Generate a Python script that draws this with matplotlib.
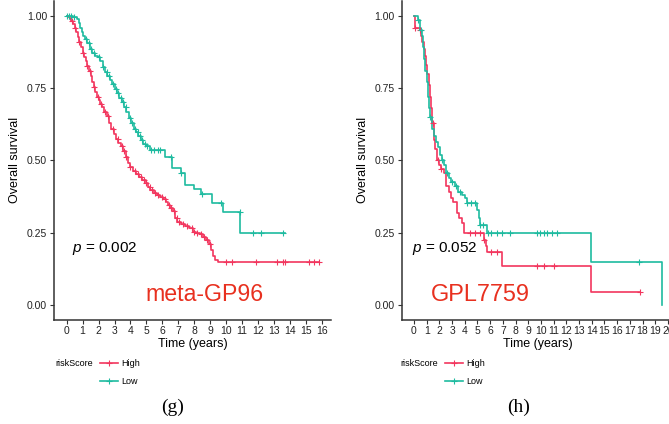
import numpy as np
import matplotlib
matplotlib.use("Agg")
import matplotlib.pyplot as plt
from matplotlib.lines import Line2D

plt.rcParams['font.family'] = ['Liberation Sans', 'DejaVu Sans']
plt.rcParams['mathtext.fontset'] = 'custom'
plt.rcParams['mathtext.it'] = 'Liberation Sans:italic'
plt.rcParams['mathtext.rm'] = 'Liberation Sans'

HIGH_COLOR = '#F2365E'
LOW_COLOR = '#1EBBA0'
LABEL_RED = '#E8301F'

# ---- panel (g): meta-GP96 ----
g_high_t = [0.00, 0.10, 0.20, 0.30, 0.40, 0.50, 0.60, 0.70, 0.80, 0.90, 1.00, 1.10, 1.20,
            1.30, 1.40, 1.50, 1.60, 1.70, 1.80, 1.90, 2.00, 2.10, 2.20, 2.35, 2.50, 2.65,
            2.80, 2.95, 3.10, 3.25, 3.40, 3.55, 3.70, 3.85, 4.00, 4.15, 4.35, 4.55, 4.75,
            4.95, 5.10, 5.25, 5.45, 5.65, 5.85, 6.05, 6.20, 6.35, 6.50, 6.65, 6.80, 6.95,
            7.15, 7.40, 7.65, 7.90, 8.10, 8.35, 8.55, 8.75, 8.95, 9.05, 9.15, 9.30, 9.50,
            15.80]
g_high_s = [1.000, 0.995, 0.990, 0.983, 0.972, 0.958, 0.944, 0.928, 0.910, 0.890, 0.872,
            0.858, 0.843, 0.826, 0.808, 0.790, 0.772, 0.755, 0.737, 0.720, 0.707, 0.695,
            0.685, 0.668, 0.652, 0.630, 0.608, 0.590, 0.574, 0.560, 0.548, 0.534, 0.512,
            0.492, 0.476, 0.463, 0.452, 0.443, 0.433, 0.420, 0.408, 0.396, 0.388, 0.380,
            0.374, 0.368, 0.356, 0.345, 0.336, 0.324, 0.300, 0.286, 0.280, 0.272, 0.266,
            0.254, 0.248, 0.244, 0.236, 0.226, 0.212, 0.190, 0.168, 0.155, 0.148, 0.148]
g_high_cens = [0.35, 0.55, 0.80, 1.05, 1.30, 1.45, 1.70, 1.95, 2.15, 2.40, 2.60, 2.90, 3.20,
               3.45, 3.60, 3.75, 4.00, 4.30, 4.50, 4.65, 4.85, 5.00, 5.20, 5.35, 5.55, 5.75,
               6.00, 6.15, 6.40, 6.55, 6.75, 6.90, 7.05, 7.30, 7.55, 7.85, 8.00, 8.20, 8.40,
               8.60, 8.80, 9.00, 10.00, 10.40, 11.90, 13.20, 13.55, 13.70, 15.20, 15.50, 15.80]

g_low_t = [0.00, 0.40, 0.65, 0.75, 0.85, 0.95, 1.05, 1.15, 1.30, 1.45, 1.60, 1.75, 1.95,
           2.10, 2.25, 2.40, 2.55, 2.70, 2.85, 3.00, 3.15, 3.30, 3.45, 3.60, 3.75, 3.90,
           4.05, 4.20, 4.35, 4.50, 4.65, 4.80, 5.00, 5.20, 6.15, 6.60, 7.15, 7.40, 8.00,
           8.45, 9.10, 9.80, 10.90, 13.70]
g_low_s = [1.000, 0.996, 0.990, 0.975, 0.958, 0.945, 0.930, 0.918, 0.905, 0.885, 0.870,
           0.862, 0.856, 0.845, 0.822, 0.806, 0.792, 0.778, 0.764, 0.748, 0.732, 0.716,
           0.700, 0.684, 0.668, 0.648, 0.628, 0.610, 0.598, 0.585, 0.570, 0.558, 0.548,
           0.536, 0.513, 0.475, 0.455, 0.415, 0.400, 0.385, 0.352, 0.320, 0.250, 0.250]
g_low_cens = [0.05, 0.15, 0.25, 0.45, 1.20, 1.40, 1.55, 1.70, 2.00, 2.30, 2.50, 2.65, 2.90,
              3.10, 3.25, 3.40, 3.55, 3.70, 3.95, 4.10, 4.30, 4.45, 4.60, 4.75, 4.90, 5.05,
              5.30, 5.50, 5.70, 5.85, 6.55, 7.20, 8.50, 9.70, 10.85, 11.70, 12.20, 13.60]

# ---- panel (h): GPL7759 ----
h_high_t = [0.00, 0.05, 0.45, 0.55, 0.65, 0.75, 0.85, 0.95, 1.05, 1.15, 1.25, 1.35, 1.45,
            1.55, 1.65, 1.80, 1.95, 2.10, 2.40, 2.55, 2.75, 2.95, 3.10, 3.35, 3.55, 3.75,
            3.90, 5.50, 5.65, 5.75, 6.95, 13.90, 17.80]
h_high_s = [1.000, 0.957, 0.950, 0.930, 0.910, 0.885, 0.860, 0.830, 0.800, 0.760, 0.720,
            0.680, 0.630, 0.570, 0.540, 0.500, 0.485, 0.470, 0.455, 0.410, 0.390, 0.370,
            0.357, 0.317, 0.300, 0.282, 0.250, 0.225, 0.205, 0.184, 0.135, 0.045, 0.045]
h_high_cens = [0.10, 0.50, 1.50, 1.90, 2.10, 4.40, 4.80, 5.20, 5.55, 6.10, 6.50, 9.70,
               10.20, 11.00, 17.80]

h_low_t = [0.00, 0.30, 0.45, 0.60, 0.70, 0.80, 0.90, 1.00, 1.10, 1.20, 1.30, 1.45, 1.60,
           1.75, 1.90, 2.05, 2.20, 2.35, 2.55, 2.75, 2.95, 3.25, 3.50, 3.75, 4.00, 4.15,
           4.95, 5.10, 5.20, 5.75, 13.90, 19.50]
h_low_s = [1.000, 0.985, 0.950, 0.930, 0.890, 0.850, 0.810, 0.770, 0.720, 0.680, 0.650,
           0.610, 0.585, 0.565, 0.545, 0.520, 0.500, 0.485, 0.455, 0.440, 0.426, 0.410,
           0.392, 0.380, 0.369, 0.352, 0.328, 0.300, 0.277, 0.250, 0.150, 0.000]
h_low_cens = [0.30, 0.55, 1.30, 2.20, 2.60, 3.00, 3.30, 3.60, 4.20, 4.50, 4.80, 5.20, 5.45,
              5.85, 6.10, 6.50, 6.90, 7.55, 9.65, 9.90, 10.20, 10.45, 10.85, 11.25, 17.70]

g_pvalue = '0.002'
h_pvalue = '0.052'


def draw_km(ax, t, s, cens, color):
    t = np.asarray(t)
    s = np.asarray(s)
    ax.plot(t, s, drawstyle='steps-post', color=color, lw=1.2, zorder=3)
    # censor marks sit on the curve
    c = np.asarray(cens)
    idx = np.searchsorted(t, c, side='right') - 1
    ax.plot(c, s[idx], ls='none', marker='+', ms=4.8, mew=0.8, color=color, zorder=4)


def style_axes(ax, tmax):
    ax.set_xlim(-0.05 * tmax, tmax * 1.05)
    ax.set_ylim(-0.05, 1.05)
    ax.set_xticks(np.arange(0, int(np.ceil(tmax)) + 1, 1))
    ax.set_yticks([0, 0.25, 0.5, 0.75, 1.0])
    ax.set_yticklabels(['0.00', '0.25', '0.50', '0.75', '1.00'])
    for side in ['top', 'right']:
        ax.spines[side].set_visible(False)
    for side in ['left', 'bottom']:
        ax.spines[side].set_color('#333333')
        ax.spines[side].set_linewidth(1.1)
    ax.tick_params(length=3, width=0.8, color='#333333', labelsize=7.5,
                   labelcolor='#222222', pad=2)
    ax.set_xlabel('Time (years)', fontsize=9, labelpad=1)
    ax.set_ylabel('Overall survival', fontsize=9, labelpad=4)


fig = plt.figure(figsize=(6.69, 4.24), dpi=100)

W, H = 669.0, 424.0
ax_g = fig.add_axes([54.1 / W, (H - 319.5) / H, 277 / W, 318.3 / H])
ax_h = fig.add_axes([401.6 / W, (H - 319.5) / H, 272.4 / W, 318.3 / H])

draw_km(ax_g, g_high_t, g_high_s, g_high_cens, HIGH_COLOR)
draw_km(ax_g, g_low_t, g_low_s, g_low_cens, LOW_COLOR)
style_axes(ax_g, 15.8)
ax_g.text(0.33, 0.197, r'$p$ = ' + g_pvalue, fontsize=11, va='center', ha='left')
ax_g.text(8.62, 0.035, 'meta-GP96', fontsize=16.7, color=LABEL_RED, ha='center', va='center')

draw_km(ax_h, h_high_t, h_high_s, h_high_cens, HIGH_COLOR)
draw_km(ax_h, h_low_t, h_low_s, h_low_cens, LOW_COLOR)
style_axes(ax_h, 19.5)
ax_h.text(-0.16, 0.197, r'$p$ = ' + h_pvalue, fontsize=11, va='center', ha='left')
ax_h.text(5.2, 0.035, 'GPL7759', fontsize=16.9, color=LABEL_RED, ha='center', va='center')

# legends below each panel
for x0 in [55 / W, 400 / W]:
    fig.text(x0, (H - 363) / H, 'riskScore', fontsize=6.5, va='center', ha='left')
    handles = [Line2D([], [], color=HIGH_COLOR, lw=1.2, marker='+', ms=4.8, mew=0.8),
               Line2D([], [], color=LOW_COLOR, lw=1.2, marker='+', ms=4.8, mew=0.8)]
    fig.legend(handles, ['High', 'Low'], loc='upper left',
               bbox_to_anchor=(x0 + 45 / W, (H - 359) / H), frameon=False,
               fontsize=6.5, handlelength=2.0, handletextpad=0.4, labelspacing=1.05,
               borderaxespad=0, borderpad=0)

fig.text(172.5 / W, (H - 407) / H, '(g)', fontsize=14, family='Liberation Serif',
         ha='center', va='center')
fig.text(519 / W, (H - 407) / H, '(h)', fontsize=14, family='Liberation Serif',
         ha='center', va='center')

fig.savefig('out.png', dpi=100)
